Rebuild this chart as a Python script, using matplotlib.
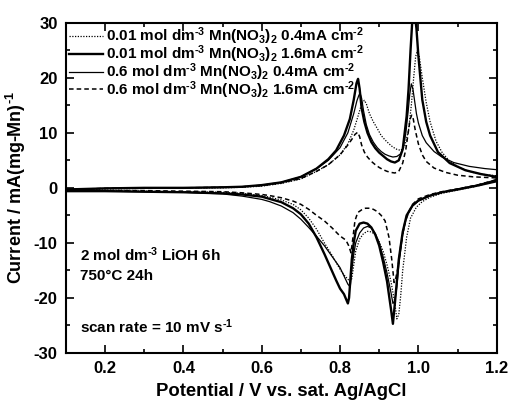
import numpy as np
import matplotlib
matplotlib.use("Agg")
import matplotlib.pyplot as plt
from matplotlib.ticker import MultipleLocator

plt.rcParams['font.family'] = ['Liberation Sans', 'DejaVu Sans']
plt.rcParams['font.weight'] = 'bold'
plt.rcParams['mathtext.fontset'] = 'custom'
plt.rcParams['mathtext.rm'] = 'Liberation Sans:bold'
plt.rcParams['mathtext.it'] = 'Liberation Sans:bold'
plt.rcParams['mathtext.bf'] = 'Liberation Sans:bold'
plt.rcParams['mathtext.default'] = 'regular'
plt.rcParams['axes.unicode_minus'] = False

# 0.01 M, 0.4 mA cm-2 (dotted)
a_x_dot = [0.10,0.20,0.30,0.40,0.50,0.55,0.60,0.65,0.70,0.74,0.77,0.80,0.82,0.835,0.845,0.852,0.858,0.862,0.867,0.875,0.885,0.895,0.905,0.915,0.925,0.935,0.945,0.955,0.965,0.975,0.982,0.988,0.993,0.997,1.002,1.01,1.02,1.03,1.045,1.06,1.08,1.11,1.14,1.17,1.20]
a_y_dot = [-0.4,-0.2,-0.1,0,0,0.1,0.3,0.8,1.6,3.0,4.2,6.0,8.0,10.5,12.8,14.5,15.5,15.9,15.3,13.5,12.0,10.8,9.5,8.7,8.0,7.4,7.0,6.8,7.5,10.5,15,20,23.8,24.9,24.0,20,15.5,12.0,8.5,6.5,4.8,3.5,2.8,2.4,2.2]
c_x_dot = [1.20,1.15,1.10,1.06,1.03,1.01,0.995,0.98,0.97,0.96,0.955,0.95,0.945,0.94,0.93,0.92,0.91,0.90,0.89,0.88,0.87,0.86,0.85,0.84,0.835,0.83,0.825,0.82,0.81,0.80,0.78,0.76,0.74,0.72,0.70,0.68,0.65,0.62,0.60,0.55,0.50,0.40,0.30,0.20,0.10]
c_y_dot = [1.3,0.3,-0.4,-1.0,-1.7,-2.5,-3.5,-5.5,-9,-15,-19.5,-23,-23.8,-21,-17,-14,-11.5,-9.8,-8.5,-8.0,-7.9,-8.3,-9.3,-11.5,-14,-16.5,-17,-16.6,-15.8,-14.8,-12.3,-10.0,-7.5,-5.5,-4.0,-3.0,-2.2,-1.7,-1.4,-1.0,-0.8,-0.7,-0.6,-0.5,-0.5]

# 0.01 M, 1.6 mA cm-2 (thick solid)
a_x_thk = [0.10,0.20,0.30,0.40,0.50,0.55,0.60,0.65,0.70,0.74,0.77,0.79,0.81,0.825,0.835,0.842,0.846,0.85,0.855,0.862,0.87,0.88,0.89,0.90,0.91,0.92,0.93,0.94,0.95,0.96,0.97,0.975,0.98,0.985,0.99,0.995,1.00,1.01,1.02,1.03,1.05,1.08,1.12,1.16,1.20]
a_y_thk = [-0.3,-0.1,0,0,0.1,0.2,0.5,1.0,2.0,3.5,5.2,6.8,9.5,12.5,16.0,19.0,19.8,18.0,14.5,12.0,10.0,8.3,7.2,6.4,5.8,5.2,4.8,4.6,5.0,7.0,13,18,25,31,32,29,24,16,12,9.5,6.5,4.5,3.2,2.5,2.0]
c_x_thk = [1.20,1.15,1.10,1.06,1.03,1.00,0.985,0.97,0.96,0.95,0.945,0.94,0.935,0.93,0.92,0.91,0.90,0.89,0.88,0.87,0.86,0.85,0.84,0.835,0.83,0.826,0.823,0.82,0.81,0.80,0.79,0.78,0.76,0.74,0.72,0.70,0.68,0.65,0.62,0.60,0.55,0.50,0.40,0.30,0.20,0.10]
c_y_thk = [1.2,0.4,-0.3,-0.8,-1.4,-2.3,-3.2,-5.0,-8.0,-13,-17,-21,-24.7,-22,-17,-13.5,-10.5,-8.5,-7.2,-6.5,-6.3,-6.5,-7.8,-10,-13,-17,-20,-21,-19.3,-18.3,-16.8,-15.2,-12.0,-9.0,-6.5,-4.8,-3.7,-2.6,-2.0,-1.6,-1.2,-1.0,-0.8,-0.7,-0.6,-0.6]

# 0.6 M, 0.4 mA cm-2 (thin solid)
a_x_thn = [0.10,0.20,0.30,0.40,0.50,0.55,0.60,0.65,0.70,0.74,0.77,0.80,0.82,0.835,0.843,0.848,0.851,0.855,0.86,0.867,0.875,0.885,0.895,0.905,0.915,0.925,0.935,0.945,0.955,0.962,0.968,0.974,0.978,0.982,0.986,0.99,0.995,1.00,1.01,1.02,1.04,1.06,1.09,1.13,1.17,1.20]
a_y_thn = [-0.3,-0.1,0,0,0.1,0.2,0.5,1.0,2.0,3.5,5.0,7.3,10,13.5,15.8,16.8,17.2,16.3,14.0,11.5,9.7,8.3,7.3,6.6,6.1,5.8,5.6,5.7,6.2,7.5,10,14,17,18.9,18.0,16.0,13.5,11.8,9.5,8.2,6.6,5.6,4.6,3.9,3.5,3.3]
c_x_thn = [1.20,1.15,1.10,1.06,1.03,1.00,0.985,0.97,0.96,0.95,0.945,0.94,0.935,0.93,0.92,0.91,0.90,0.89,0.88,0.87,0.86,0.85,0.84,0.835,0.83,0.826,0.82,0.81,0.80,0.78,0.76,0.74,0.72,0.70,0.68,0.65,0.62,0.60,0.55,0.50,0.40,0.30,0.20,0.10]
c_y_thn = [1.5,0.5,-0.2,-0.8,-1.4,-2.4,-3.3,-5.2,-8.5,-14,-18,-20.5,-21,-19,-15.5,-12.5,-10,-8.3,-7.3,-7.0,-7.3,-8.2,-10,-12,-15,-18,-17.5,-16,-14.5,-12.5,-10.5,-8.8,-7.2,-5.7,-4.5,-3.3,-2.5,-2.1,-1.5,-1.1,-0.8,-0.7,-0.6,-0.6]

# 0.6 M, 1.6 mA cm-2 (dashed)
a_x_dsh = [0.10,0.20,0.30,0.40,0.50,0.55,0.60,0.65,0.70,0.74,0.77,0.80,0.82,0.83,0.838,0.845,0.85,0.855,0.862,0.87,0.88,0.89,0.90,0.91,0.92,0.93,0.94,0.95,0.96,0.968,0.974,0.979,0.983,0.987,0.992,1.00,1.01,1.02,1.04,1.07,1.10,1.14,1.20]
a_y_dsh = [-0.3,-0.1,0,0,0.1,0.2,0.4,0.9,1.7,3.0,4.2,6.0,7.8,8.8,9.7,10.1,9.3,7.8,6.5,5.6,4.8,4.2,3.7,3.3,3.0,2.8,2.7,3.0,4.5,7,10,12.5,13.2,12.5,10.5,8.0,6.0,4.8,3.6,2.8,2.3,2.0,1.8]
c_x_dsh = [1.20,1.15,1.10,1.06,1.03,1.00,0.985,0.975,0.965,0.955,0.948,0.942,0.938,0.932,0.925,0.915,0.905,0.895,0.885,0.875,0.865,0.855,0.845,0.838,0.833,0.828,0.822,0.815,0.805,0.795,0.78,0.76,0.74,0.72,0.70,0.68,0.65,0.62,0.60,0.55,0.50,0.40,0.30,0.20,0.10]
c_y_dsh = [1.5,0.5,-0.2,-0.7,-1.2,-2.0,-3.0,-4.5,-6.5,-10.5,-14.5,-16.5,-17.2,-13,-9,-6,-5.0,-4.3,-3.9,-3.7,-3.7,-4.0,-4.5,-6,-9,-11.8,-10.5,-9.5,-9.0,-8.4,-7.3,-6.0,-5.0,-3.9,-3.0,-2.4,-1.8,-1.4,-1.2,-0.9,-0.7,-0.6,-0.5,-0.5,-0.5]

labels = [r"0.01 mol dm$^{\text{-}3}$ Mn(NO$_3$)$_2$ 0.4mA cm$^{\text{-}2}$",
          r"0.01 mol dm$^{\text{-}3}$ Mn(NO$_3$)$_2$ 1.6mA cm$^{\text{-}2}$",
          r"0.6 mol dm$^{\text{-}3}$ Mn(NO$_3$)$_2$ 0.4mA cm$^{\text{-}2}$",
          r"0.6 mol dm$^{\text{-}3}$ Mn(NO$_3$)$_2$ 1.6mA cm$^{\text{-}2}$"]

fig = plt.figure(figsize=(5.09, 4.03), dpi=100)
ax = fig.add_axes([65.9/509, 1 - 353/403, (496.7 - 65.9)/509, (353 - 22.7)/403])

ax.plot(a_x_dot + c_x_dot, a_y_dot + c_y_dot, color='k', lw=0.9, ls=(0, (1, 1.2)), label=labels[0])
ax.plot(a_x_thk + c_x_thk, a_y_thk + c_y_thk, color='k', lw=1.7, ls='-', label=labels[1])
ax.plot(a_x_thn + c_x_thn, a_y_thn + c_y_thn, color='k', lw=0.9, ls='-', label=labels[2])
ax.plot(a_x_dsh + c_x_dsh, a_y_dsh + c_y_dsh, color='k', lw=1.1, ls=(0, (3, 2)), label=labels[3])

ax.set_xlim(0.1, 1.2)
ax.set_ylim(-30, 30)
ax.xaxis.set_minor_locator(MultipleLocator(0.1))
ax.yaxis.set_major_locator(MultipleLocator(10))
ax.yaxis.set_minor_locator(MultipleLocator(5))
ax.set_xticks([0.2, 0.4, 0.6, 0.8, 1.0, 1.2])
ax.set_xticklabels(['0.2', '0.4', '0.6', '0.8', '1.0', '1.2'])
ax.tick_params(which='both', direction='in', top=True, right=True, width=1.2, labelsize=12, pad=6)
ax.tick_params(which='major', length=6)
ax.tick_params(which='minor', length=3)
for s in ax.spines.values():
    s.set_linewidth(1.5)

ax.set_xlabel("Potential / V vs. sat. Ag/AgCl", fontsize=13.3, fontweight='bold', labelpad=5)
ax.set_ylabel(r"Current / mA(mg-Mn)$^{\text{-}1}$", fontsize=13, fontweight='bold')
ax.yaxis.set_label_coords(-0.088, 0.5)

ax.text(0.136, -12.2, r"2 mol dm$^{\text{-}3}$ LiOH 6h", fontsize=11, fontweight='bold', va='center')
ax.text(0.136, -16.1, "750°C 24h", fontsize=11, fontweight='bold', va='center')
ax.text(0.136, -25.2, r"scan rate = 10 mV s$^{\text{-}1}$", fontsize=11, fontweight='bold', va='center')

ax.legend(loc='upper left', frameon=False, fontsize=11, handlelength=2.2, handletextpad=0.25,
          labelspacing=-0.25, borderaxespad=0.05, borderpad=0.15)

fig.savefig("out.png", dpi=100)
